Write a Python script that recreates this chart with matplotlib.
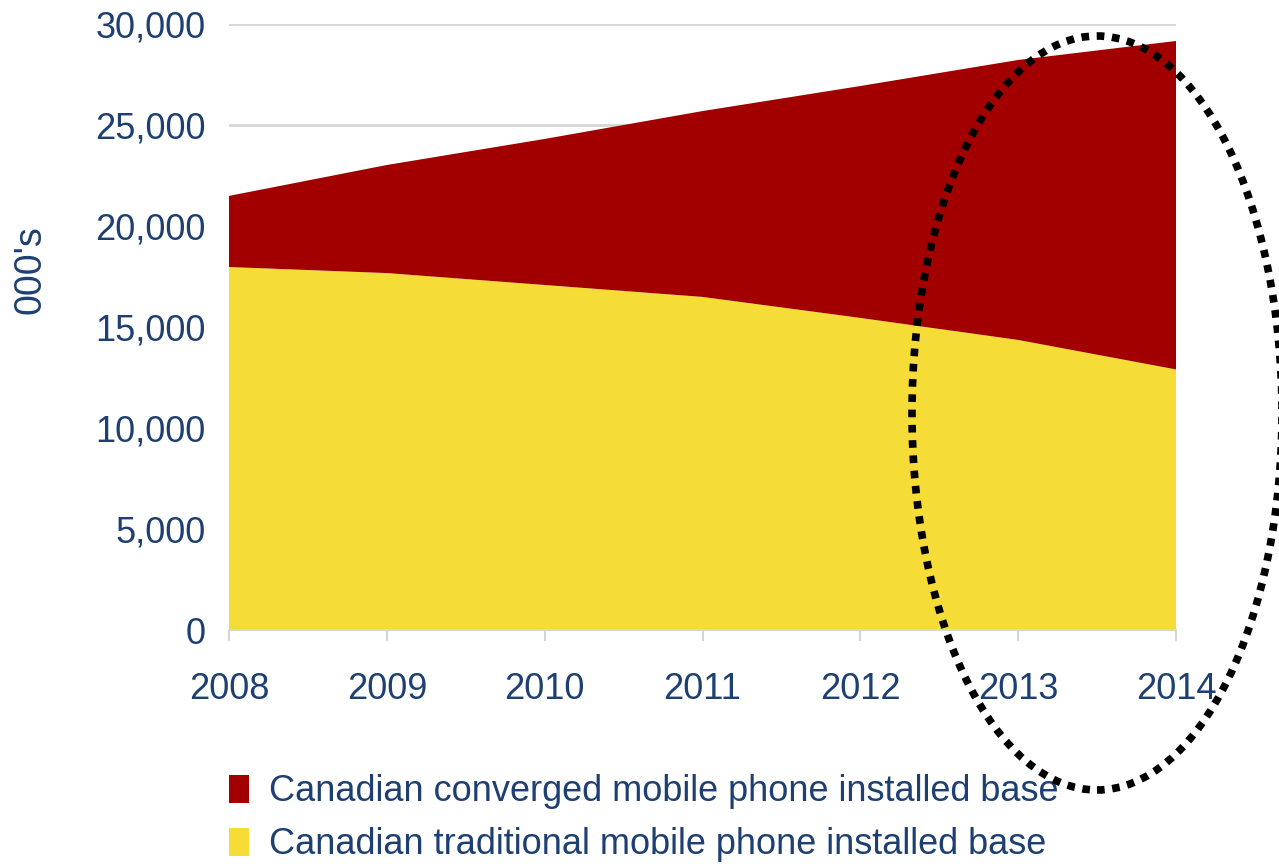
import matplotlib.pyplot as plt
from matplotlib.patches import Ellipse, Patch
from matplotlib.ticker import FuncFormatter

years = [2008, 2009, 2010, 2011, 2012, 2013, 2014]
traditional = [17970, 17670, 17080, 16490, 15450, 14360, 12900]
converged = [3520, 5350, 7230, 9200, 11480, 13860, 16260]
labels = ['Canadian converged mobile phone installed base',
          'Canadian traditional mobile phone installed base']

blue = '#1d3f72'
red = '#a20000'
yellow = '#f6dc36'

plt.rcParams['font.family'] = ['Liberation Sans', 'DejaVu Sans']

fig = plt.figure(figsize=(12.79, 8.64), dpi=100)
ax = fig.add_axes([229 / 1279, 1 - 630 / 864, (1176 - 229) / 1279, 606 / 864])

ax.stackplot(years, traditional, converged, colors=[yellow, red], linewidth=0, zorder=2)

ax.set_xlim(2008, 2014)
ax.set_ylim(0, 30000)
ax.set_yticks(range(0, 30001, 5000))
ax.set_xticks(years)
ax.yaxis.set_major_formatter(FuncFormatter(lambda v, p: f'{int(v):,}'))
ax.grid(axis='y', color='#d6d6d6', linewidth=2, zorder=0)
ax.set_axisbelow(True)

for s in ['top', 'right', 'left']:
    ax.spines[s].set_visible(False)
ax.spines['bottom'].set_color('#d6d6d6')
ax.spines['bottom'].set_linewidth(1.5)

ax.tick_params(axis='y', length=0, pad=17, labelsize=26, labelcolor=blue)
ax.tick_params(axis='x', length=8, width=1.5, color='#d6d6d6', pad=22,
               labelsize=26, labelcolor=blue)

fig.text(30 / 1279, 1 - 270 / 864, "000's", rotation=90, ha='center', va='center',
         fontsize=27, color=blue)

handles = [Patch(facecolor=red), Patch(facecolor=yellow)]
leg = fig.legend(handles, labels, loc='upper left',
                 bbox_to_anchor=(215 / 1279, 1 - 760 / 864),
                 frameon=False, fontsize=26, handlelength=0.55, handleheight=0.8,
                 handletextpad=0.55, labelspacing=0.5, borderaxespad=0)
for t in leg.get_texts():
    t.set_color(blue)

# dotted ellipse highlighting the last years
ell = Ellipse((1097 / 1279, 1 - 413 / 864), 370 / 1279, 754 / 864,
              transform=fig.transFigure, fill=False, edgecolor='black',
              linewidth=5.5, linestyle=(0, (1, 1.0)), zorder=10)
fig.patches.append(ell)

fig.savefig('out.png', dpi=100)
